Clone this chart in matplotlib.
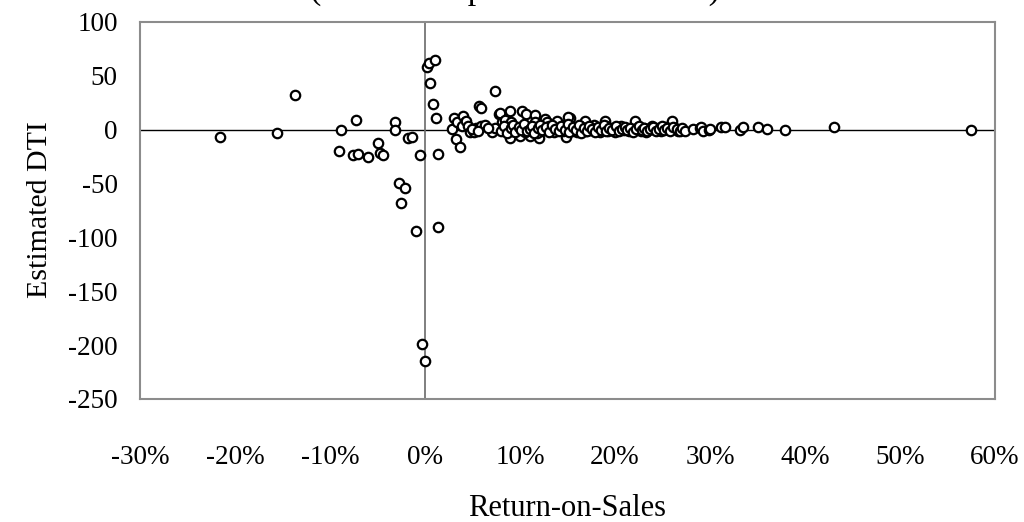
import matplotlib
matplotlib.use("Agg")
import matplotlib.pyplot as plt

plt.rcParams['font.family'] = ['Liberation Serif', 'DejaVu Serif']

# Return-on-Sales (in percent) and estimated DTI for each firm
ros = [
    -21.6, -15.6, -13.7, -8.8, -7.3, -9.1, -7.6, -7.1, -6.0, -4.9, -4.7, -4.4,
    -3.2, -3.2, -2.7, -2.1, -2.5, -1.8, -1.4, -0.5, 0.2, 0.4, 1.0, 0.5, 0.8,
    1.2, 1.4, -0.9, 1.4, -0.3, 0.0,
    2.8, 3.0, 3.4, 3.3, 3.7, 4.0, 4.2, 3.9, 4.3, 4.5, 4.7, 5.2, 5.4, 5.7, 5.9,
    5.9, 6.3, 7.0, 7.4, 7.4, 7.8, 6.6, 4.9, 5.6,
    7.9, 8.1, 8.4, 8.4, 8.9, 8.9, 9.1, 9.6, 10.0, 10.2, 10.6, 10.9, 11.1, 11.6,
    11.6, 12.0, 12.6, 12.8, 13.3, 13.9, 14.2, 14.8, 15.3, 9.2, 9.8, 10.5, 11.4,
    12.2, 12.4, 13.0, 13.6, 14.0, 14.5, 15.0, 8.7, 10.3, 11.8, 12.9, 13.9, 14.6,
    15.1, 16.8, 18.9, 22.1, 26.0,
    15.5, 15.8, 16.0, 16.3, 16.5, 16.9, 17.2, 17.5, 17.8, 18.1, 18.4, 18.7,
    19.0, 19.3, 19.6, 20.0, 20.3, 20.6, 20.9, 21.2, 21.5, 21.8, 22.4, 22.7,
    23.0, 23.3, 23.6, 23.9, 24.2, 24.5, 24.8, 25.1, 25.4, 25.7, 26.3, 26.6,
    8.0, 8.3, 8.6, 9.0, 9.3, 9.5, 9.9, 10.1, 10.4, 10.7, 11.0, 11.3, 11.5, 11.9,
    12.1, 12.3, 12.7, 13.1, 13.4, 13.7, 14.1, 14.3, 14.7, 15.0, 15.2, 15.6,
    15.9, 16.2, 16.4, 16.7, 17.0, 17.3, 17.6, 17.9, 18.2, 18.5, 18.8, 19.1,
    19.4, 19.7, 20.1, 20.4, 20.7, 21.0, 21.3, 21.6, 21.9, 22.2, 22.5, 22.8,
    23.1, 23.4, 23.7, 24.0, 24.3, 24.6, 24.9, 25.2, 25.5, 25.8,
    26.1, 26.5, 26.8, 27.1, 27.4, 28.2, 28.9, 29.1, 29.3, 29.9, 30.0, 31.2,
    31.6, 33.2, 33.5, 35.1, 36.0, 37.9, 43.1, 57.5,
]
dti = [
    -6.8, -2.8, 31.8, -0.9, 8.6, -20.1, -24.1, -22.3, -25.7, -12.7, -22.0, -24.1,
    6.8, -0.9, -49.2, -54.7, -68.0, -8.3, -6.5, -24.1, 58.4, 61.5, 64.3, 43.0, 24.1,
    10.5, -22.3, -94.6, -90.9, -198.8, -214.3,
    0.6, 10.5, 6.8, -8.7, -16.4, 12.3, 6.8, 2.8, 8.3, 2.8, -2.2, -2.2, 1.6, 21.5, 19.8,
    2.8, 4.6, -2.5, 1.6, 35.5, 14.5, 1.0, 0.5, -1.0,
    15.5, 6.8, 9.0, 0.6, -8.3, 16.7, 6.8, 0.6, -5.6, 16.7, 14.6, 2.1, -5.6, 13.0,
    6.8, -8.3, 9.9, 6.8, -0.3, 2.5, 0.6, -6.5, 10.5, -1.5, -0.8, -2.2, 0.8,
    -1.5, 1.2, 3.2, -2.5, 5.5, -1.2, 2.5, 2.0, 3.0, -2.8, 0.2, 8.3, 4.0,
    11.5, 8.3, 8.3, 8.3, 8.3,
    -1.0, 1.5, -2.5, 3.5, 0.0, -1.5, 2.0, -0.5, 4.0, 1.0, -2.0, 0.5,
    3.0, -1.0, 1.5, -2.0, 0.5, 3.0, -0.5, 1.8, -1.5, 0.8, 2.5, -1.0,
    1.0, -2.2, 0.3, 2.8, -0.8, 1.5, -1.8, 0.5, 2.2, -0.5, 1.2, -1.0,
    -1.2, 3.5, -3.0, 1.0, 4.5, -2.5, 2.0, -0.5, 5.0, -1.5, 0.5, 3.5, -3.0, 1.5,
    4.0, -0.8, 2.5, -2.0, 4.5, 0.8, -1.8, 3.0, 0.0, 5.5, -2.5, 2.0,
    -0.5, 4.5, -3.5, 1.0, -1.0, 3.5, 0.5, -2.5, 2.5, 0.0, 4.5, -1.5,
    1.5, -0.5, 3.0, -1.8, 0.8, 2.5, -0.8, 1.2, -2.0, 0.5, 3.5, -0.5,
    1.8, -1.2, 0.5, 2.5, -1.5, 0.8, 2.8, -0.8, 1.5, -1.5,
    2.1, 0.6, -1.2, 1.0, -1.5, 0.6, 1.5, 2.1, -1.5, -0.5, 0.6, 2.1,
    2.1, 0.0, 2.1, 2.1, 0.6, 0.0, 2.0, 0.0,
]

x_ticks = [-30, -20, -10, 0, 10, 20, 30, 40, 50, 60]
x_tick_labels = ['-30%', '-20%', '-10%', '0%', '10%', '20%', '30%', '40%', '50%', '60%']
y_ticks = [-250, -200, -150, -100, -50, 0, 50, 100]
y_tick_labels = ['-250', '-200', '-150', '-100', '-50', '0', '50', '100']

fig = plt.figure(figsize=(10.24, 5.22), dpi=100)
ax = fig.add_axes([140 / 1024, 1 - 399 / 522, 855 / 1024, 377.3 / 522])

ax.axhline(0, color='black', lw=1.0, zorder=1)
ax.axvline(0, color='#6a6a6a', lw=1.2, zorder=1)

ax.scatter(ros, dti, s=46, facecolors='white', edgecolors='black',
           linewidths=1.6, zorder=3)

ax.set_xlim(-30, 60)
ax.set_ylim(-250, 100)
ax.set_xticks(x_ticks)
ax.set_xticklabels(x_tick_labels)
ax.set_yticks(y_ticks)
ax.set_yticklabels(y_tick_labels)
ax.tick_params(axis='both', length=0, labelsize=19.5)
ax.tick_params(axis='x', pad=33)
ax.tick_params(axis='y', pad=16)

for sp in ax.spines.values():
    sp.set_color('#8c8c8c')
    sp.set_linewidth(1.5)

fig.text(567 / 1024, 1 - 509 / 522, 'Return-on-Sales', fontsize=22,
         ha='center', va='center')
fig.text(40 / 1024, 1 - 210 / 522, 'Estimated DTI', fontsize=21.5,
         ha='center', va='center', rotation=90)

# Chart subtitle sits above the plot area
fig.text(515 / 1024, 1 + 1 / 522, '(Entire sample of listed firms)', fontsize=24.5,
         ha='center', va='baseline')

fig.savefig('out.png', dpi=100)
